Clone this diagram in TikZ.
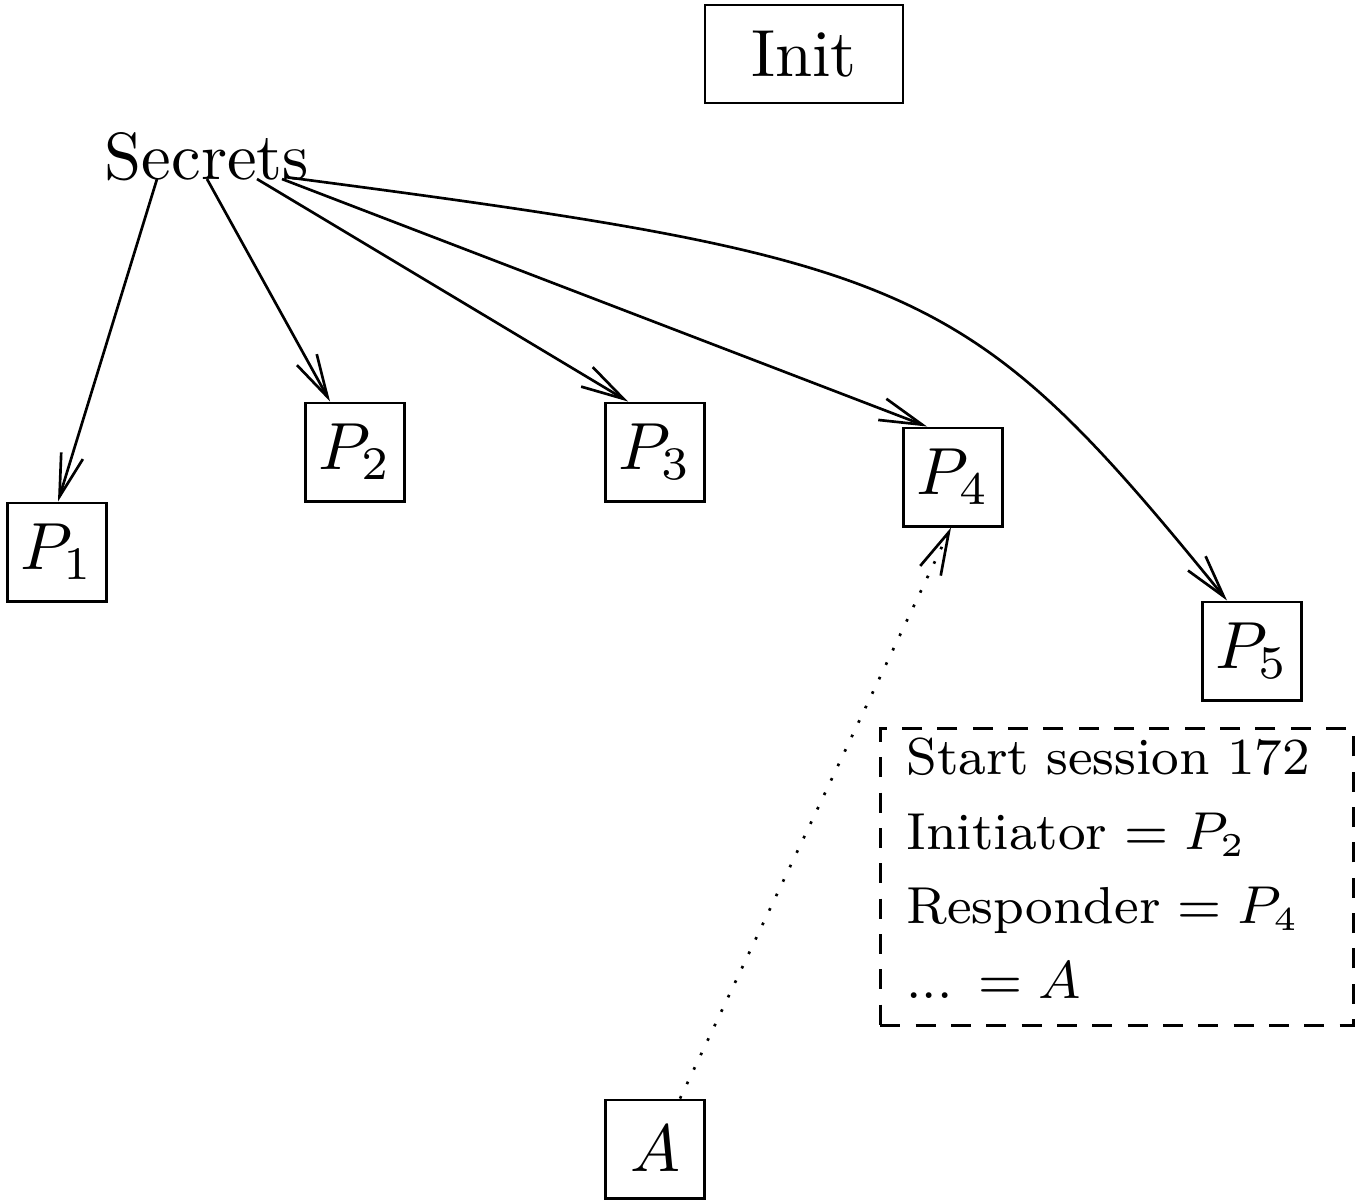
\documentclass[tikz,border=0pt]{standalone}
\usetikzlibrary{arrows.meta,calc}
\begin{document}
\begin{tikzpicture}[x=0.15pt,y=-0.15pt,
  box/.style={draw,line width=0.4pt,inner sep=0pt,minimum width=14.85pt,minimum height=14.75pt,font=\fontsize{10}{12}\selectfont},
  feed/.style={line width=0.4pt,-{Straight Barb[length=6.4pt,width=3.4pt,line width=0.4pt]}},
  note/.style={draw,dashed,dash pattern=on 3pt off 2.3pt,line width=0.4pt,align=left,
    inner xsep=3.9pt,inner ysep=0pt,text width=63.15pt,minimum height=44.55pt,
    font=\fontsize{7.8}{11.15}\selectfont}]
\useasboundingbox (0,0) rectangle (1355,1202);

% participants and sources
\node[box,minimum width=29.7pt,minimum height=14.7pt] (init) at (804,54) {Init};
\node[inner sep=0pt,anchor=base,font=\fontsize{10}{12}\selectfont] (secrets) at (207,179) {Secrets};
\node[box] (p1) at (57,552) {$P_1$};
\node[box] (p2) at (355,452) {$P_2$};
\node[box] (p3) at (655,452) {$P_3$};
\node[box] (p4) at (953,477) {$P_4$};
\node[box] (p5) at (1252,651) {$P_5$};
\node[box] (a) at (655,1149) {$A$};

% session description
\node[note,anchor=north west] (sess) at (879,727) {Start session 172\\
Initiator $= P_2$\\
Responder $= P_4$\\
... $= A$\rule[-2.6pt]{0pt}{2.6pt}};

% distribution of secrets
\draw[feed] ($(secrets.base)+(-50,0)$) -- ($(p1.north)+(1,0)$);
\draw[feed] ($(secrets.base)+(0,0)$) -- ($(p2.north)+(-25,0)$);
\draw[feed] ($(secrets.base)+(50,0)$) -- ($(p3.north)+(-27,0)$);
\draw[feed] ($(secrets.base)+(75,0)$) -- ($(p4.north)+(-26,0)$);
\draw[feed] ($(secrets.base)+(78,-2)$) .. controls (920,260) and (967,281) .. ($(p5.north)+(-25,0)$);

% adversary link
\draw[feed,dotted] ($(a.north)+(25,0)$) -- ($(p4.south)+(-2,0)$);
\end{tikzpicture}
\end{document}
